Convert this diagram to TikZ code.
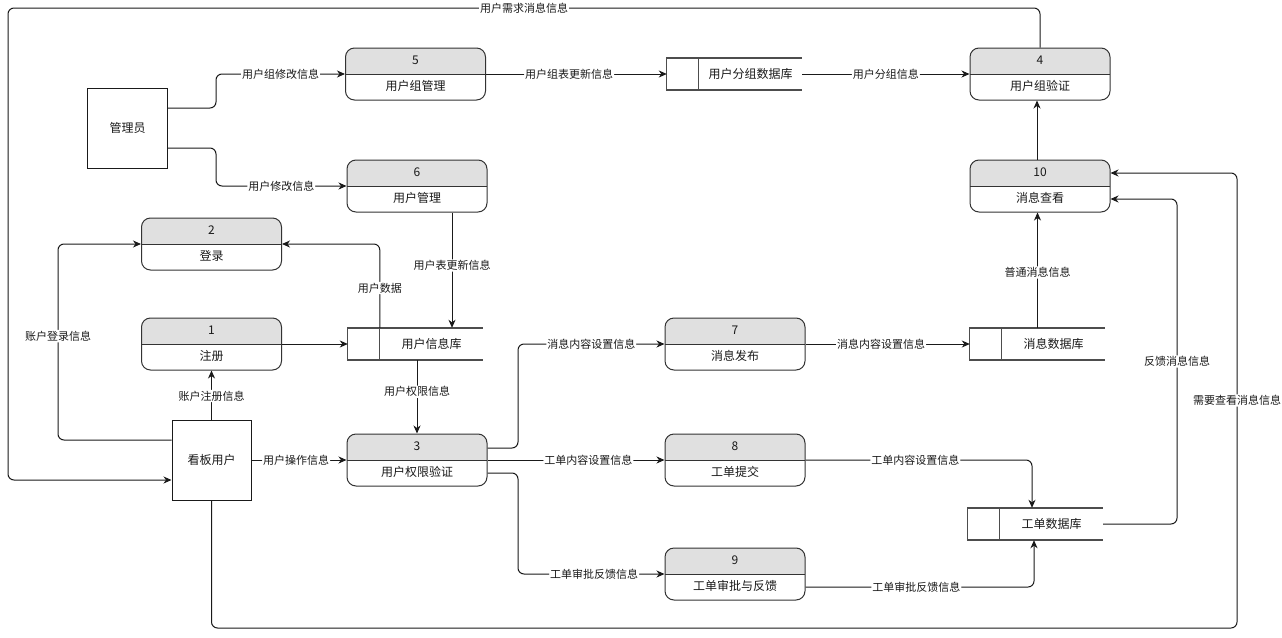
\documentclass[tikz,border=0pt]{standalone}
\usepackage{fontspec}
\setmainfont{Noto Sans CJK SC}
\usetikzlibrary{arrows.meta,calc}
\definecolor{hdr}{HTML}{E0E0E0}
\definecolor{ln}{HTML}{1A1A1A}
\definecolor{bd}{HTML}{333333}
\definecolor{dsl}{HTML}{4D4D4D}
\definecolor{txt}{HTML}{1A1A1A}
\tikzset{
 proc/.style={draw=bd, line width=1pt, rounded corners=9pt, minimum width=140pt, minimum height=52pt,
   inner sep=0pt, align=center, font=\fontsize{12}{26}\selectfont, text=txt,
   path picture={\fill[hdr, sharp corners] (path picture bounding box.north west) rectangle (path picture bounding box.east);
     \draw[bd, line width=1pt, sharp corners] (path picture bounding box.west) -- (path picture bounding box.east);}},
 ext/.style={draw=ln, line width=1pt, minimum width=80pt, minimum height=80pt, inner sep=0pt,
   font=\fontsize{12}{14}\selectfont, text=txt},
 ds/.style={minimum width=135pt, minimum height=32pt, inner sep=0pt, font=\fontsize{12}{14}\selectfont, text=txt},
 flow/.style={draw=ln, line width=1pt, rounded corners=6pt, -{Stealth[length=8pt,width=7pt,inset=2.5pt]}},
 lbl/.style={fill=white, inner sep=1pt, font=\fontsize{11}{12}\selectfont, text=txt},
 dsedge/.style={draw=dsl, line width=2pt},
 dsbox/.style={draw=dsl, line width=1pt},
}
\newcommand{\dstore}[1]{%
  \draw[dsbox] (#1.north west) rectangle ([xshift=32pt]#1.south west);
  \draw[dsedge] (#1.north west) -- (#1.north east);
  \draw[dsedge] (#1.south west) -- (#1.south east);
}
\begin{document}
\begin{tikzpicture}[x=1pt,y=-1pt]
\useasboundingbox[fill=white] (0,0) rectangle (1282,637);
% external entities
\node[ext] (adm) at (127.5,128) {管理员};
\node[ext, minimum width=79pt] (usr) at (211.5,460) {看板用户};
% processes
\node[proc] (p5) at (415.5,74) {5\\用户组管理};
\node[proc] (p6) at (417,186) {6\\用户管理};
\node[proc] (p2) at (211.5,244) {2\\登录};
\node[proc] (p1) at (211.5,344) {1\\注册};
\node[proc] (p3) at (417,460) {3\\用户权限验证};
\node[proc] (p7) at (735,344) {7\\消息发布};
\node[proc] (p8) at (735,460) {8\\工单提交};
\node[proc] (p9) at (735,574) {9\\工单审批与反馈};
\node[proc] (p4) at (1040,74) {4\\用户组验证};
\node[proc] (p10) at (1040,186) {10\\消息查看};
% data stores
\node[ds] (ds1) at (734.5,74) {\hspace*{32pt}用户分组数据库};
\node[ds] (ds2) at (415.5,344) {\hspace*{32pt}用户信息库};
\node[ds] (ds3) at (1037.5,344) {\hspace*{32pt}消息数据库};
\node[ds] (ds4) at (1035.5,524) {\hspace*{32pt}工单数据库};
\dstore{ds1}\dstore{ds2}\dstore{ds3}\dstore{ds4}
\coordinate (ds2d) at ([xshift=32pt]ds2.north west);
\coordinate (ds4n) at ([xshift=-3.5pt]ds4.north);
\coordinate (ds4s) at ([xshift=-1.5pt]ds4.south);
% flows
\draw[flow] ([yshift=20pt]adm.east) -- (216,108) -- (216,74) -- node[lbl]{用户组修改信息} (p5.west);
\draw[flow] ([yshift=-20pt]adm.east) -- (216,148) -- (216,186) -- node[lbl]{用户修改信息} (p6.west);
\draw[flow] (p5.east) -- node[lbl,pos=.46]{用户组表更新信息} (ds1.west);
\draw[flow] (ds1.east) -- node[lbl]{用户分组信息} (p4.west);
\draw[flow] (p4.north) -- (1040,8) -- node[lbl]{用户需求消息信息} (8,8) -- (8,480) -- ([yshift=-20pt]usr.west);
\draw[flow] ([xshift=35pt]p6.south) -- node[lbl,pos=.46]{用户表更新信息} ([xshift=35pt]p6.south |- ds2.north);
\draw[flow] (p1.east) -- (ds2.west);
\draw[flow] (ds2d) -- node[lbl,pos=.476]{用户数据} (ds2d |- p2.east) -- (p2.east);
\draw[flow] (p3.north |- ds2.south) -- node[lbl,pos=.43]{用户权限信息} (p3.north);
\draw[flow] (usr.north) -- node[lbl,pos=.48]{账户注册信息} (p1.south);
\draw[flow] ([yshift=20pt]usr.west) -- (58,440) -- node[lbl,pos=.53]{账户登录信息} (58,244) -- (p2.west);
\draw[flow] (usr.east) -- node[lbl,pos=.47]{用户操作信息} (p3.west);
\draw[flow] ([yshift=12pt]p3.east) -- (518,448) -- (518,344) -- node[lbl]{消息内容设置信息} (p7.west);
\draw[flow] (p3.east) -- node[lbl,pos=.57]{工单内容设置信息} (p8.west);
\draw[flow] ([yshift=-13pt]p3.east) -- (518,473) -- (518,574) -- node[lbl,pos=.52]{工单审批反馈信息} (p9.west);
\draw[flow] (p7.east) -- node[lbl,pos=.46]{消息内容设置信息} (ds3.west);
\draw[flow] (ds3.north) -- node[lbl,pos=.48]{普通消息信息} (ds3.north |- p10.south);
\draw[flow] ([xshift=-3pt]p10.north) -- ([xshift=-3pt]p4.south);
\draw[flow] (p8.east) -- node[lbl,pos=.485]{工单内容设置信息} (p8.east -| ds4n) -- (ds4n);
\draw[flow] ([yshift=-13pt]p9.east) -- node[lbl,pos=.485]{工单审批反馈信息} (1034,587) -- (ds4s);
\draw[flow] (ds4.east) -- (1177,524) -- node[lbl]{反馈消息信息} (1177,199) -- ([yshift=-13pt]p10.east);
\draw[flow] (usr.south) -- (211.5,628) -- (1237,628) -- node[lbl]{需要查看消息信息} (1237,173) -- ([yshift=13pt]p10.east);
\end{tikzpicture}
\end{document}
